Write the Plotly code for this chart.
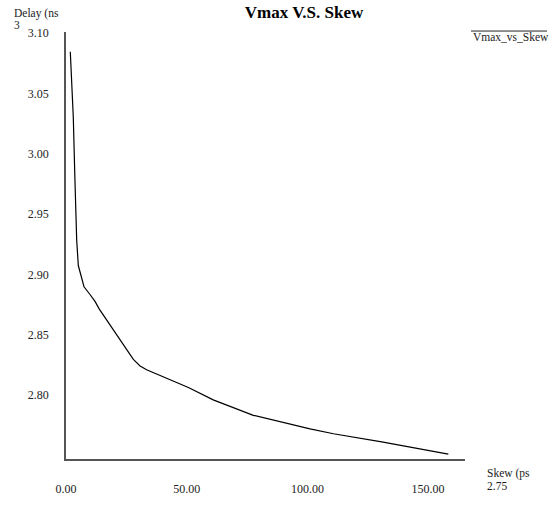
import plotly.graph_objects as go

# Data
skew_ps = [1.78, 2.61, 3.02, 3.73, 4.43, 5.10, 6.51, 7.46, 9.94, 12.02, 13.80,
           27.9, 30.7, 33.4, 50.7, 61.0, 77.6, 88.7, 97.0, 101.1, 110.8,
           130.8, 158.4]
delay_ns = [3.0845, 3.0516, 3.0302, 2.9766, 2.9285, 2.9073, 2.8963, 2.8897,
            2.8833, 2.8776, 2.8712, 2.8295, 2.8241, 2.8209, 2.8062, 2.7960,
            2.7832, 2.7778, 2.7738, 2.7719, 2.7679, 2.7612, 2.7510]

y_ticks = [2.80, 2.85, 2.90, 2.95, 3.00, 3.05, 3.10]
y_tick_text = ["2.80", "2.85", "2.90", "2.95", "3.00", "3.05", "3.10"]
x_ticks = [0, 50, 100, 150]
x_tick_text = ["0.00", "50.00", "100.00", "150.00"]

W, H = 558, 508
L, R, T, B = 66, 465, 32, 473  # plot area in pixels

def px(xp):
    return (xp - L) / (R - L)

def py(yp):
    return (B - yp) / (B - T)

FONT = "Liberation Serif, Times New Roman, serif"

fig = go.Figure()
fig.add_trace(go.Scatter(
    x=skew_ps, y=delay_ns, mode="lines",
    line=dict(color="black", width=1.2),
    name="Vmax_vs_Skew", showlegend=False, hoverinfo="skip",
))

fig.update_layout(
    width=W, height=H,
    margin=dict(l=L, r=W - R, t=T, b=H - B),
    paper_bgcolor="white", plot_bgcolor="white",
    font=dict(family=FONT, size=12, color="#222"),
    title=dict(text="<b>Vmax V.S. Skew</b>", x=304 / W, xanchor="center",
               y=1 - 12 / H, yanchor="middle",
               font=dict(family=FONT, size=17, color="black")),
    xaxis=dict(range=[0, 165.3], tickvals=x_ticks, ticktext=x_tick_text,
               showgrid=False, zeroline=False, showline=True,
               linecolor="#555", linewidth=1.8, ticks="",
               ticklabelstandoff=18,
               tickfont=dict(family=FONT, size=12, color="#222")),
    yaxis=dict(range=[2.747, 3.1008], tickvals=y_ticks, ticktext=y_tick_text,
               showgrid=False, zeroline=False, showline=True,
               linecolor="#555", linewidth=1.8, ticks="",
               ticklabelstandoff=13,
               tickfont=dict(family=FONT, size=12, color="#222")),
)

annots = [
    ("Delay (ns", 13, 12.5, 11.5),
    ("3", 13, 24.5, 11.5),
    ("Skew (ps", 486, 487.5, 11.5),
    ("2.75", 486, 500.5, 11.5),
    ("Vmax_vs_Skew", 472, 37, 11.5),
]
for text, x, y, s in annots:
    fig.add_annotation(text=text, xref="paper", yref="paper",
                       x=px(x), y=py(y), xanchor="left", yanchor="middle",
                       showarrow=False, borderpad=0,
                       font=dict(family=FONT, size=s, color="#222"))

fig.add_shape(type="line", xref="paper", yref="paper",
              x0=px(471), x1=px(547), y0=py(31), y1=py(31),
              line=dict(color="#222", width=1))

fig.write_html(
    "out.html",
    config={"displayModeBar": False},
    post_script=("document.documentElement.style.margin='0';"
                 "document.documentElement.style.overflow='hidden';"
                 "document.body.style.margin='0';"
                 "document.body.style.overflow='hidden';"),
)
